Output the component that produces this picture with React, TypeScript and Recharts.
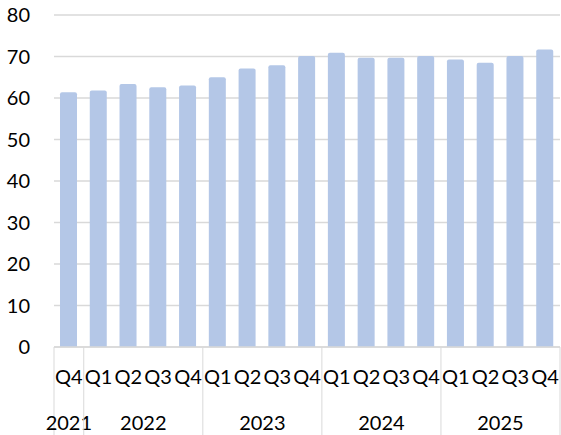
import { Bar, BarChart, CartesianGrid, XAxis, YAxis } from 'recharts'

const quarters = ['Q4', 'Q1', 'Q2', 'Q3', 'Q4', 'Q1', 'Q2', 'Q3', 'Q4', 'Q1', 'Q2', 'Q3', 'Q4', 'Q1', 'Q2', 'Q3', 'Q4']
const years = ['2021', '2022', '2022', '2022', '2022', '2023', '2023', '2023', '2023', '2024', '2024', '2024', '2024', '2025', '2025', '2025', '2025']
const values = [61.4, 61.8, 63.4, 62.6, 63.0, 65.0, 67.1, 67.9, 70.1, 70.9, 69.7, 69.7, 70.1, 69.3, 68.5, 70.1, 71.7]
const yTicks = [0, 10, 20, 30, 40, 50, 60, 70, 80]

const data = quarters.map((q, i) => ({ key: `${years[i]}-${q}`, q, year: years[i], value: values[i] }))

const FONT = 'Lato, sans-serif'
const TEXT = '#000000'
const GRID = '#d9d9d9'
const BAR = '#b4c7e7'
const Q_AXIS_H = 45
const YEAR_AXIS_H = 43

const YearTick = (props: any) => {
  const { x, y, index, payload } = props
  const half = payload?.offset ?? 14.9
  const left = x - half
  const isStart = index === 0 || years[index - 1] !== years[index]
  const isLast = index === years.length - 1
  const count = years.filter((yr) => yr === years[index]).length
  const top = y - Q_AXIS_H
  const bottom = y + YEAR_AXIS_H
  return (
    <g>
      {isStart && <line x1={left} x2={left} y1={top} y2={bottom} stroke={GRID} strokeWidth={1} />}
      {isLast && <line x1={x + half} x2={x + half} y1={top} y2={bottom} stroke={GRID} strokeWidth={1} />}
      {isStart && (
        <text
          x={left + count * half}
          y={y + 38}
          textAnchor="middle"
          fill={TEXT}
          fontSize={20}
          fontFamily={FONT}
        >
          {years[index]}
        </text>
      )}
    </g>
  )
}

export default function App() {
  return (
    <div style={{ position: 'absolute', left: 0, top: 0, background: '#fff' }}>
      <BarChart
        width={561}
        height={435}
        data={data}
        margin={{ top: 15, right: 1, left: 0, bottom: 0 }}
      >
        <CartesianGrid vertical={false} stroke={GRID} strokeWidth={1.5} />
        <YAxis
          domain={[0, 80]}
          ticks={yTicks}
          width={54}
          axisLine={false}
          tickLine={false}
          tickSize={0}
          tickMargin={24}
          interval={0}
          tick={{ fill: TEXT, fontSize: 20, fontFamily: FONT }}
        />
        <XAxis
          dataKey="key"
          height={Q_AXIS_H}
          interval={0}
          tickLine={false}
          tickSize={0}
          tickMargin={23}
          axisLine={{ stroke: GRID, strokeWidth: 1.5 }}
          tickFormatter={(_v: string, i: number) => quarters[i]}
          tick={{ fill: TEXT, fontSize: 20, fontFamily: FONT }}
        />
        <XAxis
          xAxisId="year"
          dataKey="key"
          height={YEAR_AXIS_H}
          interval={0}
          tickLine={false}
          tickSize={0}
          tickMargin={0}
          axisLine={false}
          tick={<YearTick />}
        />
        <Bar dataKey="value" fill={BAR} barSize={17} radius={[2, 2, 0, 0]} isAnimationActive={false} />
      </BarChart>
    </div>
  )
}
